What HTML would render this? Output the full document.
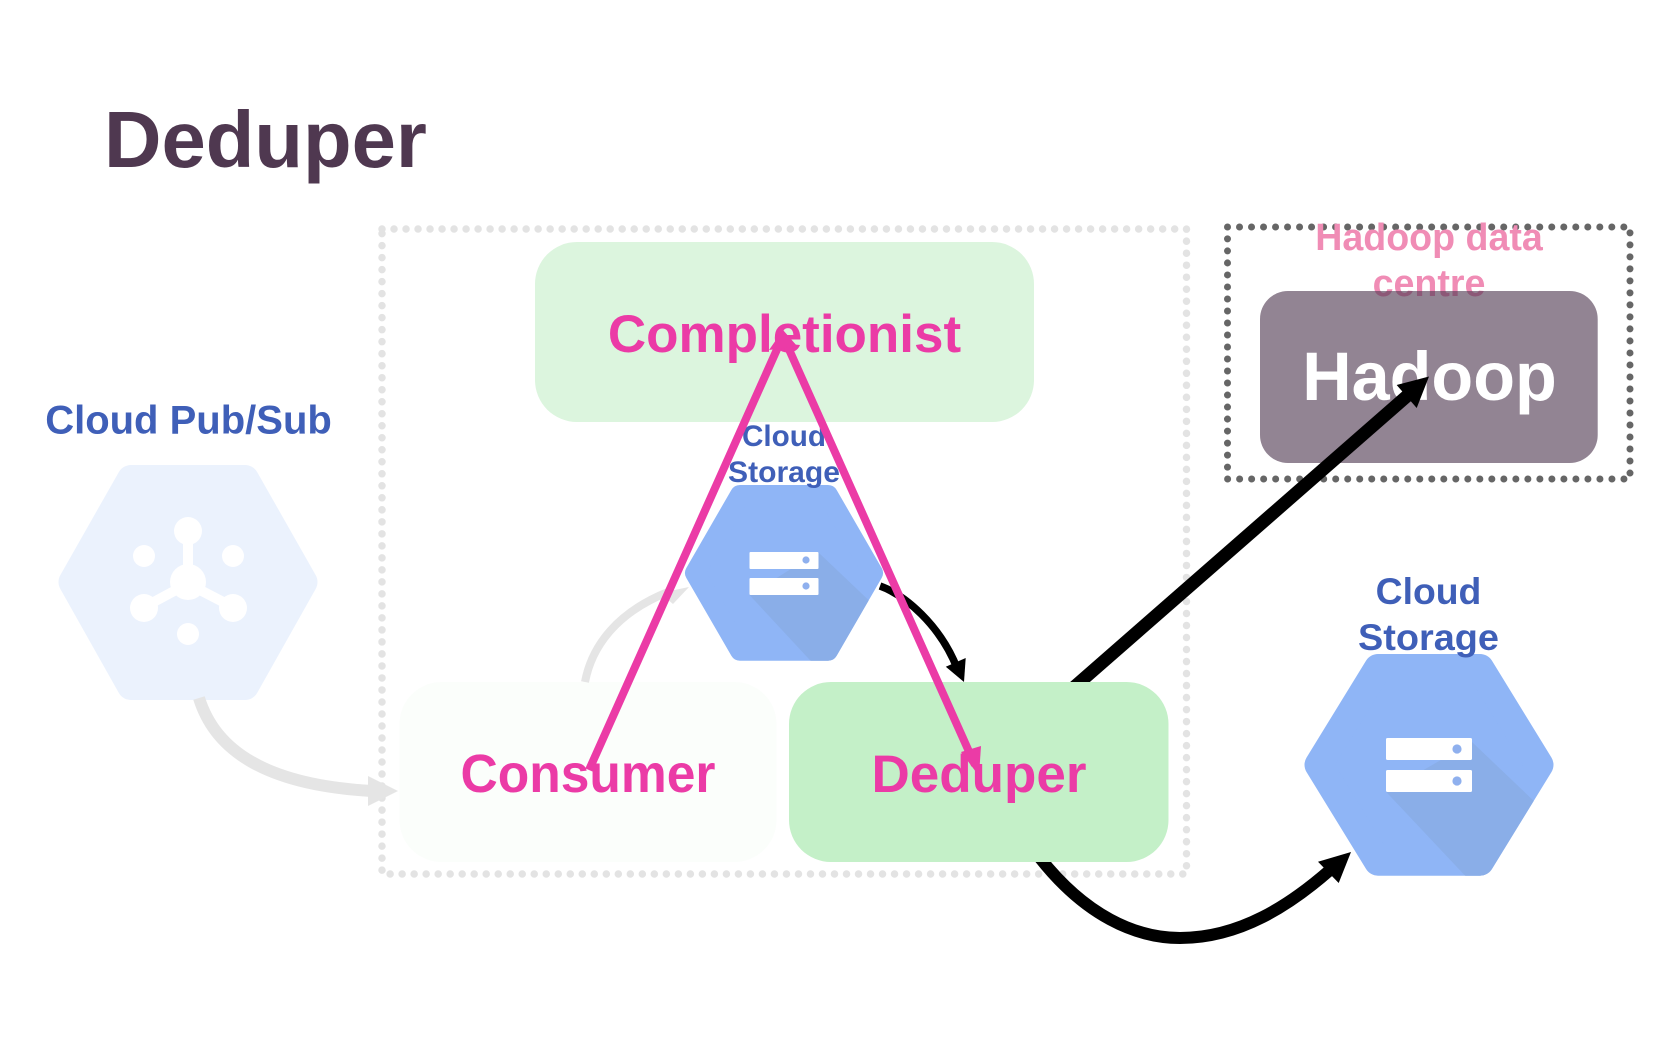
<!DOCTYPE html>
<html lang="en">
<head>
<meta charset="utf-8">
<title>Deduper</title>
<style>
html,body{margin:0;padding:0;background:#fff;width:1680px;height:1050px;overflow:hidden}
svg{display:block}
text{font-family:"Liberation Sans",Arial,sans-serif;font-weight:bold}
</style>
</head>
<body>
<svg width="1680" height="1050" viewBox="0 0 1680 1050" xmlns="http://www.w3.org/2000/svg">
<defs>
<mask id="hs" maskUnits="userSpaceOnUse" x="0" y="0" width="1680" height="1050"><polygon points="740,495 828,495 873,573 828,650.7 740,650.7 695,573" fill="#fff" stroke="#fff" stroke-width="20" stroke-linejoin="round"/></mask>
<mask id="hb" maskUnits="userSpaceOnUse" x="0" y="0" width="1680" height="1050"><polygon points="1378,668 1480,668 1539.5,764.8 1480,861.7 1378,861.7 1318.5,764.8" fill="#fff" stroke="#fff" stroke-width="28" stroke-linejoin="round"/></mask>
</defs>
<rect width="1680" height="1050" fill="#fff"/>

<text x="104" y="167" font-size="79.6" fill="#4f3850">Deduper</text>

<!-- dotted containers -->
<rect x="382" y="229" width="804.5" height="645" fill="none" stroke="#e3e3e3" stroke-width="7.5" stroke-linecap="round" stroke-dasharray="0.01 12"/>
<rect x="1227.5" y="227" width="402.5" height="252" fill="none" stroke="#666" stroke-width="7" stroke-linecap="round" stroke-dasharray="0.01 12"/>

<!-- Pub/Sub -->
<text x="188.5" y="433.5" font-size="40" fill="#3f5fb8" text-anchor="middle">Cloud Pub/Sub</text>
<polygon points="131,479 245,479 303.5,582 245,686 131,686 72.5,582" fill="#ebf2fd" stroke="#ebf2fd" stroke-width="28" stroke-linejoin="round"/>
<g fill="#fff" stroke="#fff">
<circle cx="188" cy="582" r="18" stroke="none"/>
<circle cx="188" cy="531" r="14" stroke="none"/>
<circle cx="144" cy="556" r="11" stroke="none"/>
<circle cx="233" cy="556" r="11" stroke="none"/>
<circle cx="144" cy="608" r="14" stroke="none"/>
<circle cx="233" cy="608" r="14" stroke="none"/>
<circle cx="188" cy="634" r="11" stroke="none"/>
<line x1="188" y1="540" x2="188" y2="570" stroke-width="10"/>
<line x1="150" y1="604" x2="176" y2="590" stroke-width="10"/>
<line x1="227" y1="604" x2="200" y2="590" stroke-width="10"/>
</g>

<!-- Completionist / Consumer boxes -->
<rect x="535" y="242" width="499" height="180" rx="42" fill="#dcf5de"/>
<rect x="399.5" y="682" width="377" height="180" rx="42" fill="#fbfefb"/>

<!-- gray connectors -->
<g fill="none" stroke="#e5e5e5">
<path d="M199,698 C215,750 265,785 372,791" stroke-width="12"/>
<path d="M585,682 C592,645 618,612 668,592" stroke-width="8"/>
</g>
<polygon points="398,791 368,776 368,806" fill="#e5e5e5"/>
<polygon points="689,587 660,593 673,604" fill="#e5e5e5"/>

<!-- small Cloud Storage -->
<polygon points="740,495 828,495 873,573 828,650.7 740,650.7 695,573" fill="#8fb5f6" stroke="#8fb5f6" stroke-width="20" stroke-linejoin="round"/>
<polygon points="818,552 900,630 900,700 847,700 749.5,595" fill="#8aaee8" mask="url(#hs)"/>
<rect x="749.5" y="552" width="69" height="17" rx="1" fill="#fff"/>
<rect x="749.5" y="578" width="69" height="17" rx="1" fill="#fff"/>
<circle cx="806" cy="560" r="3.6" fill="#8fb0ee"/>
<circle cx="806" cy="586" r="3.6" fill="#8fb0ee"/>
<text x="784" y="446" font-size="29.33" fill="#3f5fb8" text-anchor="middle" textLength="84" lengthAdjust="spacingAndGlyphs">Cloud</text>
<text x="784" y="482" font-size="29.33" fill="#3f5fb8" text-anchor="middle" textLength="112" lengthAdjust="spacingAndGlyphs">Storage</text>

<!-- Hadoop group -->
<text x="1429" y="250" font-size="37.6" fill="#f08cb5" text-anchor="middle">Hadoop data</text>
<text x="1429" y="296" font-size="37.6" fill="#f08cb5" text-anchor="middle">centre</text>
<rect x="1260" y="291" width="337.7" height="172" rx="28" fill="#4f3850" fill-opacity="0.62"/>
<text x="1429.5" y="400" font-size="68.4" fill="#fff" text-anchor="middle">Hadoop</text>

<!-- black connectors beneath Deduper box -->
<path d="M1040,858 C1085,915 1135,938 1180,938 C1240,938 1290,905 1330,870" fill="none" stroke="#000" stroke-width="12"/>
<line x1="1072" y1="689" x2="1407" y2="396" stroke="#000" stroke-width="13"/>

<!-- Deduper box -->
<rect x="789" y="682" width="379.5" height="180" rx="42" fill="#c4f0c8"/>

<!-- big Cloud Storage -->
<polygon points="1378,668 1480,668 1539.5,764.8 1480,861.7 1378,861.7 1318.5,764.8" fill="#8fb5f6" stroke="#8fb5f6" stroke-width="28" stroke-linejoin="round"/>
<polygon points="1472,742 1580,845 1580,900 1488,900 1386,791.7" fill="#8aaee8" mask="url(#hb)"/>
<rect x="1386" y="738" width="86" height="22" rx="1.5" fill="#fff"/>
<rect x="1386" y="770" width="86" height="22" rx="1.5" fill="#fff"/>
<circle cx="1457" cy="749" r="4.6" fill="#8fb0ee"/>
<circle cx="1457" cy="781" r="4.6" fill="#8fb0ee"/>
<text x="1428.5" y="604" font-size="37.33" fill="#3f5fb8" text-anchor="middle">Cloud</text>
<text x="1428.5" y="650" font-size="37.33" fill="#3f5fb8" text-anchor="middle" textLength="141" lengthAdjust="spacingAndGlyphs">Storage</text>

<!-- black arrowheads -->
<polygon points="1429,376.5 1396.7,385 1416.7,408" fill="#000"/>
<polygon points="1351,852 1318,861.7 1338.7,883" fill="#000"/>
<path d="M880,586 C905,595 940,625 957,668" fill="none" stroke="#000" stroke-width="7.5"/>
<polygon points="964,682 945.8,666.7 965.7,658" fill="#000"/>

<!-- labels -->
<text x="784.5" y="352" font-size="53" fill="#eb3ba6" text-anchor="middle">Completionist</text>
<text x="588" y="792" font-size="53.33" fill="#eb3ba6" text-anchor="middle" textLength="255" lengthAdjust="spacingAndGlyphs">Consumer</text>
<text x="979" y="792" font-size="53" fill="#eb3ba6" text-anchor="middle">Deduper</text>

<!-- pink triangle -->
<g fill="none" stroke="#eb3ba6" stroke-width="8">
<line x1="589" y1="770" x2="783" y2="336"/>
<line x1="783" y1="336" x2="975" y2="765"/>
</g>
<polygon points="783,330 769,350 797,346" fill="#eb3ba6"/>
<polygon points="979,776 961,752 981,746" fill="#eb3ba6"/>
</svg>
</body>
</html>
